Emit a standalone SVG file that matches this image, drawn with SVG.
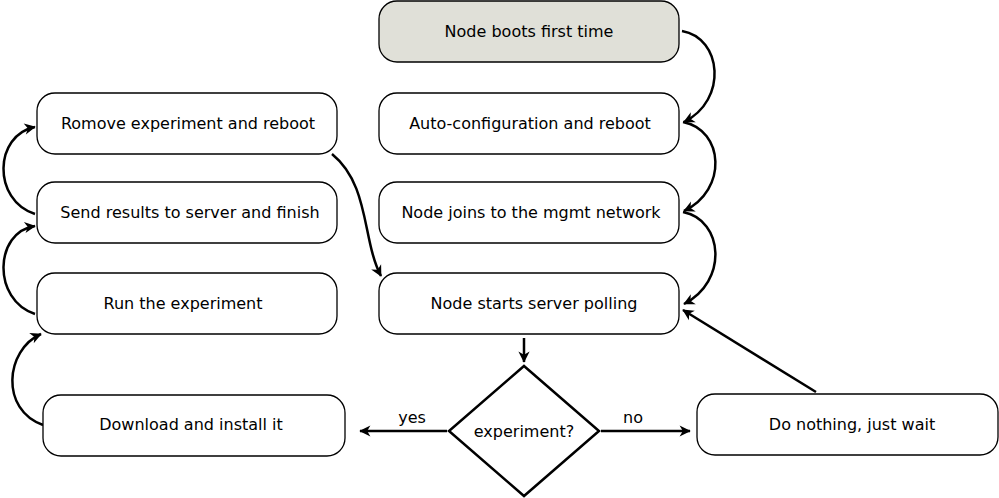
<svg xmlns="http://www.w3.org/2000/svg" width="999" height="498" viewBox="0 0 999 498">
<style>
.box{fill:#fff;stroke:#000;stroke-width:1.3}
.start{fill:#e0e0d8}
.t{font-family:"DejaVu Sans",sans-serif;font-size:16px;fill:#000;text-anchor:middle}
.c{fill:none;stroke:#000;stroke-width:2.5;marker-end:url(#ah)}
</style>
<defs>
<marker id="ah" viewBox="0 0 10 10" refX="9" refY="5" markerWidth="8" markerHeight="8" markerUnits="userSpaceOnUse" orient="auto" overflow="visible">
<path d="M10,5 L-4,-2 L0,5 L-4,12 Z" fill="#000" transform="translate(0,0) scale(1)"/>
</marker>
</defs>
<g id="connectors">
<path class="c" d="M682,31 C722,38 728,100 684,122"/>
<path class="c" d="M683,122 C724,130 728,190 684,211"/>
<path class="c" d="M683,212 C724,220 728,282 684,304"/>
<path class="c" d="M524,338 L524,362"/>
<path class="c" d="M447,431 L360,431"/>
<path class="c" d="M601,431 L690,431"/>
<path class="c" d="M816,392 L683,310"/>
<path class="c" d="M43,425 C0,410 5,350 41,334"/>
<path class="c" d="M35,314 C-8,300 -6,232 35,226"/>
<path class="c" d="M35,214 C-8,200 -6,135 35,127"/>
<path class="c" d="M332,154 C370,185 362,240 381,276"/>
<text class="t" x="412" y="423">yes</text>
<text class="t" x="633" y="423">no</text>
</g>
<g id="boot"><rect class="box start" x="379" y="1" width="300" height="61" rx="18"/><text class="t" x="529" y="37">Node boots first time</text></g>
<g id="autoconf"><rect class="box" x="379" y="93" width="300" height="61" rx="18"/><text class="t" x="530" y="129">Auto-configuration and reboot</text></g>
<g id="joins"><rect class="box" x="379" y="182" width="300" height="61" rx="18"/><text class="t" x="531" y="218">Node joins to the mgmt network</text></g>
<g id="polling"><rect class="box" x="379" y="273" width="300" height="61" rx="18"/><text class="t" x="534" y="309">Node starts server polling</text></g>
<g id="remove"><rect class="box" x="37" y="93" width="300" height="61" rx="18"/><text class="t" x="188" y="129">Romove experiment and reboot</text></g>
<g id="send"><rect class="box" x="37" y="182" width="300" height="61" rx="18"/><text class="t" x="190" y="218">Send results to server and finish</text></g>
<g id="run"><rect class="box" x="37" y="273" width="300" height="61" rx="18"/><text class="t" x="183" y="309">Run the experiment</text></g>
<g id="download"><rect class="box" x="43" y="395" width="302" height="61" rx="18"/><text class="t" x="191" y="430">Download and install it</text></g>
<g id="wait"><rect class="box" x="697" y="394" width="301" height="61" rx="18"/><text class="t" x="852" y="430">Do nothing, just wait</text></g>
<g id="decision"><polygon points="524,366 599,431 524,496 449,431" fill="#fff" stroke="#000" stroke-width="2.5"/><text class="t" x="524" y="437">experiment?</text></g>
</svg>
